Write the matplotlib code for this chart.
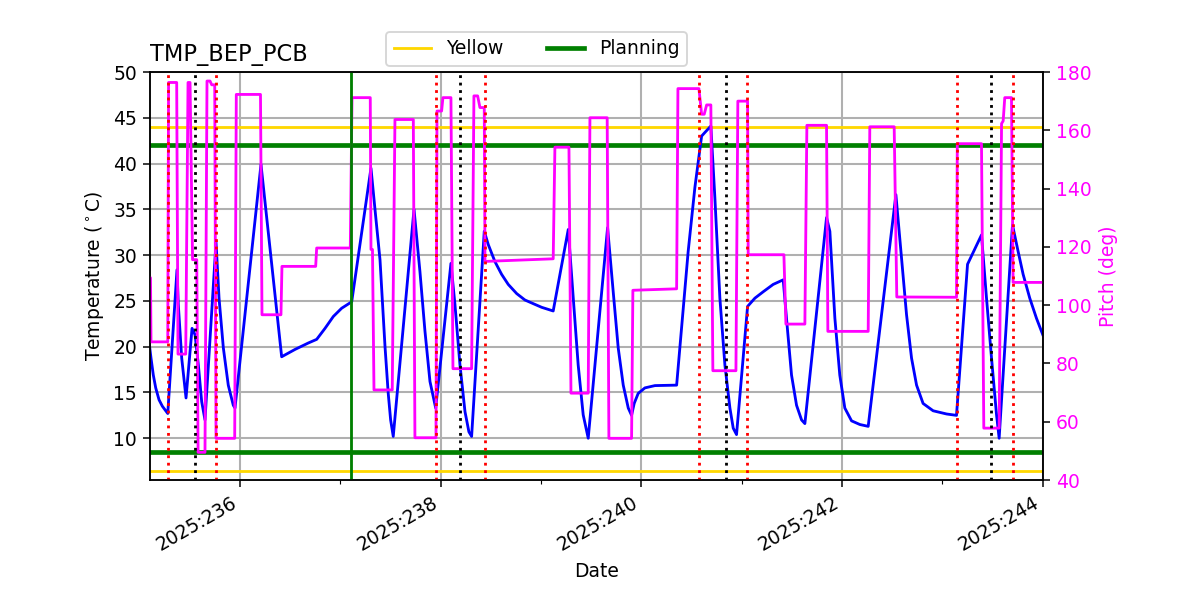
import matplotlib
matplotlib.use("Agg")
import matplotlib.pyplot as plt

# temperature (day of year 2025, deg C)
temp_days = [235.088, 235.113, 235.136, 235.160, 235.193, 235.226, 235.280, 235.372, 235.385, 235.419,
             235.462, 235.522, 235.552, 235.585, 235.618, 235.651, 235.761, 235.791, 235.834, 235.883,
             235.933, 235.950, 236.209, 236.415, 236.548, 236.680, 236.764, 236.847, 236.930, 237.013,
             237.113, 237.305, 237.345, 237.395, 237.445, 237.477, 237.501, 237.527, 237.734, 237.793,
             237.843, 237.893, 237.950, 238.102, 238.142, 238.192, 238.242, 238.281, 238.308, 238.434,
             238.474, 238.540, 238.607, 238.673, 238.757, 238.839, 238.922, 239.006, 239.121, 239.271,
             239.321, 239.370, 239.420, 239.470, 239.663, 239.719, 239.769, 239.819, 239.869, 239.902,
             239.928, 239.968, 240.035, 240.135, 240.351, 240.466, 240.533, 240.600, 240.633, 240.692,
             240.732, 240.782, 240.832, 240.882, 240.915, 240.948, 241.058, 241.131, 241.214, 241.313,
             241.413, 241.457, 241.496, 241.546, 241.596, 241.629, 241.845, 241.878, 241.928, 241.977,
             242.027, 242.094, 242.177, 242.260, 242.536, 242.592, 242.642, 242.692, 242.742, 242.807,
             242.907, 243.041, 243.140, 243.250, 243.389, 243.439, 243.489, 243.539, 243.565, 243.698,
             243.754, 243.804, 243.870, 243.937, 244.000]
temps = [21.0, 18.75, 16.9, 15.5, 14.2, 13.5, 12.7, 28.4, 24.6, 18.75,
         14.4, 22.0, 21.3, 18.0, 14.0, 12.0, 31.4, 25.3, 19.85, 15.8,
         13.6, 13.3, 39.9, 18.9, 19.7, 20.4, 20.8, 22.0, 23.3, 24.2,
         24.9, 39.5, 35.0, 29.5, 20.0, 14.9, 12.0, 10.2, 35.0, 28.2,
         21.7, 16.2, 13.3, 29.1, 24.6, 18.0, 12.9, 10.7, 10.2, 32.6,
         31.15, 29.3, 27.9, 26.8, 25.8, 25.1, 24.7, 24.3, 23.9, 32.8,
         25.3, 18.0, 12.55, 10.0, 33.0, 26.0, 19.85, 15.8, 13.3, 12.5,
         13.8, 14.9, 15.5, 15.75, 15.8, 30.4, 37.4, 43.0, 43.4, 44.1,
         36.3, 25.3, 18.0, 13.3, 11.1, 10.4, 24.4, 25.3, 26.0, 26.8,
         27.3, 21.7, 16.9, 13.6, 12.0, 11.6, 34.1, 32.6, 23.1, 16.9,
         13.3, 11.9, 11.5, 11.3, 36.6, 29.7, 23.5, 18.75, 15.8, 13.8,
         13.0, 12.65, 12.5, 29.0, 32.2, 25.3, 18.75, 12.55, 10.0, 33.3,
         30.4, 27.9, 25.3, 23.1, 21.3]

# pitch (deg)
pitch_days = [235.088, 235.108, 235.113, 235.280, 235.288, 235.369, 235.382, 235.459, 235.482, 235.502,
              235.527, 235.569, 235.582, 235.651, 235.671, 235.701, 235.718, 235.748, 235.761, 235.947,
              235.963, 236.204, 236.219, 236.408, 236.418, 236.754, 236.764, 237.099, 237.116, 237.298,
              237.305, 237.320, 237.335, 237.517, 237.544, 237.727, 237.743, 237.953, 237.963, 238.009,
              238.022, 238.102, 238.122, 238.308, 238.331, 238.368, 238.391, 238.434, 238.441, 239.121,
              239.138, 239.278, 239.298, 239.470, 239.487, 239.659, 239.676, 239.902, 239.915, 240.351,
              240.364, 240.573, 240.600, 240.626, 240.650, 240.692, 240.712, 240.942, 240.961, 241.058,
              241.064, 241.420, 241.440, 241.629, 241.649, 241.845, 241.858, 242.260, 242.276, 242.519,
              242.545, 243.140, 243.148, 243.389, 243.412, 243.565, 243.589, 243.605, 243.621, 243.688,
              243.704, 244.000]
pitch = [109.4, 109.4, 87.4, 87.4, 176.4, 176.4, 83.2, 83.2, 176.4, 176.4,
         115.6, 115.6, 49.5, 49.5, 176.9, 176.9, 175.6, 175.6, 54.3, 54.3,
         172.3, 172.3, 96.7, 96.7, 113.3, 113.3, 119.6, 119.6, 171.2, 171.2,
         119.1, 119.1, 70.9, 70.9, 163.7, 163.7, 54.5, 54.5, 166.6, 166.6,
         171.2, 171.2, 78.2, 78.2, 171.8, 171.8, 167.8, 167.8, 115.0, 115.9,
         154.2, 154.2, 69.8, 69.8, 164.3, 164.3, 54.3, 54.3, 105.1, 105.6,
         174.3, 174.3, 165.5, 165.5, 168.7, 168.7, 77.5, 77.5, 170.0, 170.0,
         117.3, 117.3, 93.5, 93.5, 161.7, 161.7, 91.0, 91.0, 161.2, 161.2,
         102.8, 102.7, 155.4, 155.4, 57.8, 57.8, 162.3, 163.2, 171.2, 171.2,
         107.8, 107.8]

# limits and events
yellow_limits = [44.0, 6.4]
planning_limits = [42.0, 8.5]
red_events = [235.283, 235.761, 237.953, 238.441, 240.573, 241.051, 243.143, 243.701]
black_events = [235.552, 238.192, 240.842, 243.482]
green_event = 237.106

major_days = [236, 238, 240, 242, 244]
major_labels = ["2025:236", "2025:238", "2025:240", "2025:242", "2025:244"]
minor_days = [237, 239, 241, 243]

fig, ax1 = plt.subplots(figsize=(8.8889, 4.4445), dpi=135)

ax1.axhline(yellow_limits[0], color="gold", lw=1.5, label="Yellow")
ax1.axhline(yellow_limits[1], color="gold", lw=1.5)
ax1.axhline(planning_limits[0], color="green", lw=2.5, label="Planning")
ax1.axhline(planning_limits[1], color="green", lw=2.5)
ax1.plot(temp_days, temps, color="blue", lw=1.5)

ax1.set_xlim(235.103, 244.0)
ax1.set_ylim(5.44, 50)
ax1.set_xticks(major_days)
ax1.set_xticklabels(major_labels)
ax1.set_xticks(minor_days, minor=True)
plt.setp(ax1.get_xticklabels(), rotation=30, ha="right")
ax1.grid(True, lw=1.1)
ax1.set_xlabel("Date")
ax1.set_ylabel("Temperature ($^\\circ$C)")
ax1.set_title("TMP_BEP_PCB", loc="left")
ax1.legend(loc="lower center", bbox_to_anchor=(0.433, 0.992), ncol=2, columnspacing=2.3)

ax2 = ax1.twinx()
ax2.plot(pitch_days, pitch, color="magenta", lw=1.5)
ax2.set_ylim(40, 180)
ax2.set_ylabel("Pitch (deg)", color="magenta")
ax2.tick_params(axis="y", labelcolor="magenta")

for d in red_events:
    ax2.axvline(d, color="red", ls=":", lw=1.5)
for d in black_events:
    ax2.axvline(d, color="black", ls=":", lw=1.5)
ax2.axvline(green_event, color="green", lw=1.5)

fig.subplots_adjust(left=0.125, right=0.869, bottom=0.2, top=0.88)
fig.savefig("out.png", dpi=135)
